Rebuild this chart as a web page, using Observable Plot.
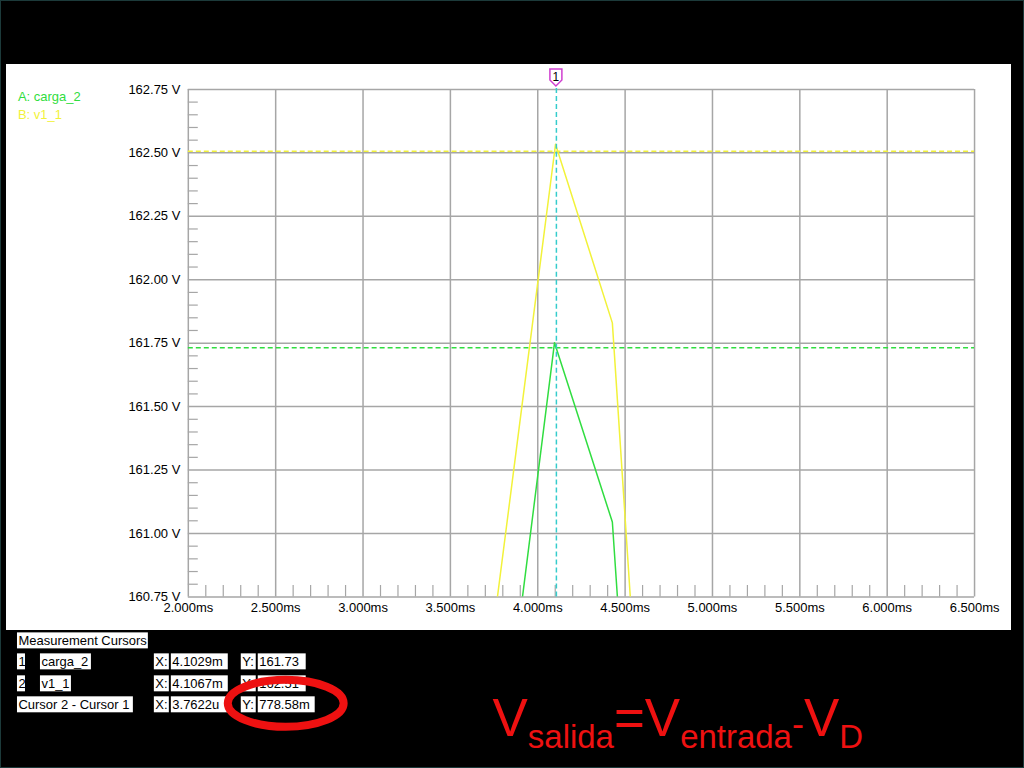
<!DOCTYPE html>
<html>
<head>
<meta charset="utf-8">
<script src="https://cdn.jsdelivr.net/npm/d3@7"></script>
<script src="https://cdn.jsdelivr.net/npm/@observablehq/plot@0.6"></script>
<style>
  html, body { margin: 0; padding: 0; background: #000; }
  #page { position: relative; width: 1024px; height: 768px; background: #000; overflow: hidden; box-sizing: border-box; border: 1px solid #1c3a3a; }
  #panel { position: absolute; left: 5px; top: 63px; width: 1005px; height: 566px; background: #fff; }
  #chart { position: absolute; left: -1px; top: -1px; }
</style>
</head>
<body>
<div id="page"><div id="panel"></div><div id="chart"></div></div>
<script>
// ---- data ----
const timeMs = [3.76, 4.1017, 4.427, 4.58];          // v1_1 sample times (ms)
const v1_1 = [160.70, 162.534, 161.83, 160.22];     // v1_1 voltage (V)
const timeMsCarga = [3.77, 4.096, 4.427, 4.50];     // carga_2 sample times (ms)
const carga_2 = [159.97, 161.752, 161.045, 160.30]; // carga_2 voltage (V)

const xTicks = [2.0, 2.5, 3.0, 3.5, 4.0, 4.5, 5.0, 5.5, 6.0, 6.5];
const yTicks = [160.75, 161.0, 161.25, 161.5, 161.75, 162.0, 162.25, 162.5, 162.75];
const xMinor = d3.range(2.0, 6.5001, 0.1).filter(v => Math.abs(v * 2 - Math.round(v * 2)) > 1e-6);
const yMinor = d3.range(160.75, 162.7501, 0.05).filter(v => Math.abs(v * 4 - Math.round(v * 4)) > 1e-6);

const cursorX = 4.1067;          // cursor 1/2 time
const cursorYv1 = 162.506;       // cursor on v1_1
const cursorYcarga = 161.732;    // cursor on carga_2

const legendNames = ["A: carga_2", "B: v1_1"];
const cursorRows = [
  [["Measurement Cursors", 17, 148]],
  [["1", 17, 25], ["carga_2", 40, 91], ["X:", 154, 169], ["4.1029m", 171, 228], ["Y:", 241, 256], ["161.73", 258, 306]],
  [["2", 17, 25], ["v1_1", 40, 71], ["X:", 154, 169], ["4.1067m", 171, 228], ["Y:", 241, 256], ["162.51", 258, 306]],
  [["Cursor 2 - Cursor 1", 17, 133], ["X:", 154, 169], ["3.7622u", 171, 228], ["Y:", 241, 256], ["778.58m", 258, 315]]
];
const rowTops = [633, 654, 676, 697];

const yellowData = timeMs.map((t, i) => ({t, v: v1_1[i]}));
const greenData = timeMsCarga.map((t, i) => ({t, v: carga_2[i]}));

const GRID = "#a6a6a6";
const YELLOW = "#f2f23a";
const GREEN = "#30dd40";
const CYAN = "#35cccc";
const FONT = "'Liberation Sans', Arial, sans-serif";

const plot = Plot.plot({
  width: 1024,
  height: 768,
  marginLeft: 188,
  marginRight: 49,
  marginTop: 89,
  marginBottom: 171,
  style: {background: "none", fontFamily: FONT, fontSize: "13px", color: "#000", overflow: "visible"},
  x: {domain: [2.0, 6.5]},
  y: {domain: [160.75, 162.75]},
  marks: [
    Plot.ruleX(xTicks, {stroke: GRID, strokeWidth: 1.5}),
    Plot.ruleY(yTicks, {stroke: GRID, strokeWidth: 1.5}),
    Plot.ruleX(xMinor, {y1: 160.75, y2: 160.795, stroke: GRID, strokeWidth: 1.2}),
    Plot.ruleY(yMinor, {x1: 2.0, x2: 2.057, stroke: GRID, strokeWidth: 1.2}),
    Plot.ruleY([cursorYv1], {stroke: YELLOW, strokeWidth: 1.5, strokeDasharray: "5,3"}),
    Plot.ruleY([cursorYcarga], {stroke: GREEN, strokeWidth: 1.5, strokeDasharray: "5,3"}),
    Plot.line(yellowData, {x: "t", y: "v", stroke: YELLOW, strokeWidth: 1.5, clip: true}),
    Plot.line(greenData, {x: "t", y: "v", stroke: GREEN, strokeWidth: 1.5, clip: true}),
    Plot.ruleX([cursorX], {y1: 160.75, y2: 162.765, stroke: CYAN, strokeWidth: 1.5, strokeDasharray: "5,3"}),
    Plot.axisY(yTicks, {tickSize: 0, tickPadding: 8, tickFormat: d => d.toFixed(2) + " V", label: null, fontSize: 13}),
    Plot.axisX(xTicks, {tickSize: 0, tickPadding: 6, tickFormat: d => d.toFixed(3) + "ms", label: null, fontSize: 13})
  ]
});
document.getElementById("chart").appendChild(plot);

const svg = d3.select(plot);
const xs = plot.scale("x");
const cx = xs.apply(cursorX);

// cursor marker
const mk = svg.append("g").attr("font-family", FONT);
mk.append("path")
  .attr("d", `M${cx - 6},69 h12 v11 l-6,6 l-6,-6 z`)
  .attr("fill", "#fff").attr("stroke", "#d040d0").attr("stroke-width", 1.5);
mk.append("text").attr("x", cx).attr("y", 81).attr("text-anchor", "middle")
  .attr("font-size", 12).attr("fill", "#000").text("1");

// legend
const legendColors = [GREEN, YELLOW];
legendNames.forEach((n, i) => {
  svg.append("text").attr("x", 18).attr("y", 101 + i * 18).attr("text-anchor", "start")
    .attr("font-family", FONT).attr("font-size", 13).attr("fill", legendColors[i]).text(n);
});

// cursor table
const tbl = svg.append("g").attr("font-family", FONT).attr("text-anchor", "start");
cursorRows.forEach((row, r) => {
  row.forEach(([txt, x0, x1]) => {
    tbl.append("rect").attr("x", x0).attr("y", rowTops[r]).attr("width", x1 - x0).attr("height", 16).attr("fill", "#fff");
    tbl.append("text").attr("x", x0 + 1.5).attr("y", rowTops[r] + 13).attr("text-anchor", "start")
      .attr("font-size", 13).attr("fill", "#000").text(txt);
  });
});

// red ellipse
svg.append("ellipse").attr("cx", 286).attr("cy", 704).attr("rx", 58).attr("ry", 23.5)
  .attr("fill", "none").attr("stroke", "#ee1111").attr("stroke-width", 8);

// formula
const f = svg.append("text").attr("x", 493).attr("y", 737).attr("fill", "#ee1111").attr("text-anchor", "start")
  .attr("font-size", 53).attr("font-family", FONT);
f.append("tspan").text("V");
f.append("tspan").attr("font-size", 33).attr("dy", 12).text("salida");
f.append("tspan").attr("dy", -12).text("=");
f.append("tspan").text("V");
f.append("tspan").attr("font-size", 33).attr("dy", 12).text("entrada");
f.append("tspan").attr("font-size", 36).attr("dy", -12).text("-");
f.append("tspan").text("V");
f.append("tspan").attr("font-size", 33).attr("dy", 12).text("D");
</script>
</body>
</html>
